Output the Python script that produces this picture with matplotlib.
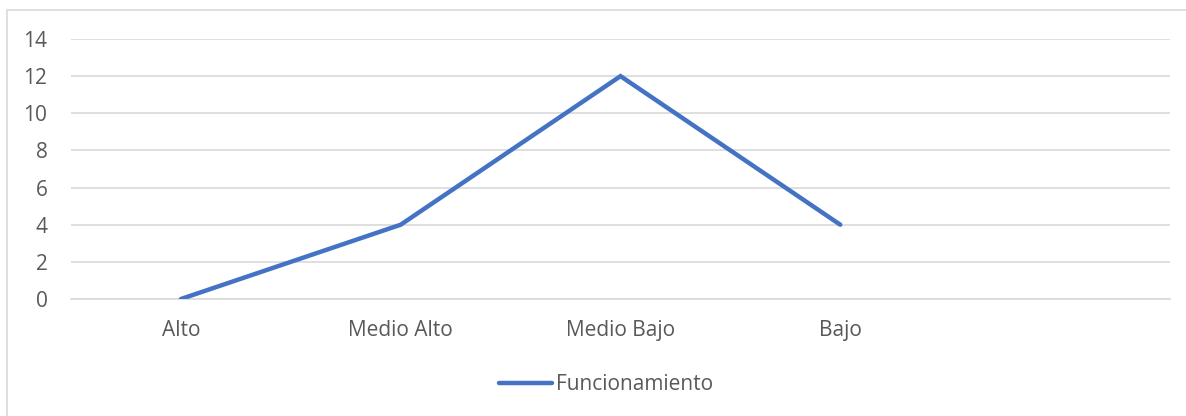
import matplotlib.pyplot as plt
from matplotlib.patches import Rectangle

# Chart data
categories = ['Alto', 'Medio Alto', 'Medio Bajo', 'Bajo', '']
values = [0, 4, 12, 4, None]
series_name = 'Funcionamiento'
y_ticks = [0, 2, 4, 6, 8, 10, 12, 14]

plt.rcParams['font.family'] = ['Open Sans', 'DejaVu Sans']
text_color = '#595959'
grid_color = '#D9D9D9'
line_color = '#4472C4'

fig = plt.figure(figsize=(11.86, 4.16), dpi=100)
ax = fig.add_axes([71/1186, 1 - 299/416, (1170 - 71)/1186, (299 - 39)/416])

# Outer chart frame
fig.patches.append(Rectangle((7/1186, -0.01), 1.02, 1 - 10/416 + 0.01, transform=fig.transFigure,
                             fill=False, edgecolor=grid_color, linewidth=1.2))

xs = [i for i, v in enumerate(values) if v is not None]
ys = [v for v in values if v is not None]
ax.plot(xs, ys, color=line_color, linewidth=3.2, solid_capstyle='round',
        solid_joinstyle='miter', label=series_name, zorder=3)

ax.set_xlim(-0.5, len(categories) - 0.5)
ax.set_ylim(0, 14)
ax.set_xticks(range(len(categories)))
ax.set_xticklabels(categories)
ax.set_yticks(y_ticks)

ax.grid(axis='y', color=grid_color, linewidth=1.2)
ax.set_axisbelow(True)
for s in ['top', 'right', 'left']:
    ax.spines[s].set_visible(False)
ax.spines['bottom'].set_color(grid_color)
ax.spines['bottom'].set_linewidth(1.2)
ax.tick_params(axis='both', length=0, labelsize=15, colors=text_color)
ax.tick_params(axis='x', pad=15)
ax.tick_params(axis='y', pad=17)

leg = fig.legend(loc='center', bbox_to_anchor=(606/1186, 1 - 385/416), frameon=False,
                 fontsize=15, handlelength=2.55, handletextpad=0.2)
for t in leg.get_texts():
    t.set_color(text_color)

fig.savefig('out.png', dpi=100)
